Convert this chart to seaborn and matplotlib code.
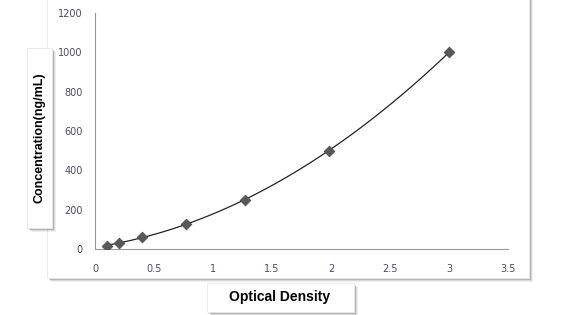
import matplotlib
matplotlib.use("Agg")
import matplotlib.pyplot as plt
import seaborn as sns
import pandas as pd
from matplotlib.patches import Rectangle

od = [0.10, 0.20, 0.40, 0.77, 1.27, 1.98, 3.00]
conc = [15.6, 31.2, 62.5, 125, 250, 500, 1000]
x_ticks = [0, 0.5, 1, 1.5, 2, 2.5, 3, 3.5]
x_tick_labels = ["0", "0.5", "1", "1.5", "2", "2.5", "3", "3.5"]
y_ticks = [0, 200, 400, 600, 800, 1000, 1200]
y_tick_labels = ["0", "200", "400", "600", "800", "1000", "1200"]

df = pd.DataFrame({"od": od, "conc": conc})

sns.set_theme(style="white")
W, H = 562, 315
fig = plt.figure(figsize=(W / 100, H / 100), dpi=100)


def frac(x0, y0, x1, y1):
    # pixel box (top-left origin) -> figure fraction (left, bottom, w, h)
    return x0 / W, 1 - y1 / H, (x1 - x0) / W, (y1 - y0) / H


def shadow_box(x0, y0, x1, y1, z):
    for i, a in enumerate([0.06, 0.10, 0.16]):
        off = 4 - i
        l, b, w, h = frac(x0 + off, y0 + off, x1 + off, y1 + off)
        fig.add_artist(Rectangle((l, b), w, h, transform=fig.transFigure,
                                 facecolor="#000000", alpha=a, edgecolor="none", zorder=z))
    l, b, w, h = frac(x0, y0, x1, y1)
    fig.add_artist(Rectangle((l, b), w, h, transform=fig.transFigure,
                             facecolor="white", edgecolor="#e8e8e8", linewidth=0.6, zorder=z + 0.1))


# chart area box
shadow_box(47, -4, 529, 278, 0)

ax = fig.add_axes(frac(95, 13, 508, 249))
ax.set_zorder(2)
ax.patch.set_alpha(0)

sns.regplot(data=df, x="od", y="conc", order=2, ci=None, scatter=False, truncate=True,
            line_kws={"color": "#222222", "linewidth": 0.9}, ax=ax)
sns.scatterplot(data=df, x="od", y="conc", marker="D", s=30, color="#585858",
                edgecolor="#484848", linewidth=0.5, zorder=5, ax=ax)

ax.set_xlim(0, 3.5)
ax.set_ylim(0, 1200)
ax.set_xticks(x_ticks)
ax.set_xticklabels(x_tick_labels)
ax.set_yticks(y_ticks)
ax.set_yticklabels(y_tick_labels)
ax.set_xlabel("")
ax.set_ylabel("")
for s in ["top", "right"]:
    ax.spines[s].set_visible(False)
for s in ["left", "bottom"]:
    ax.spines[s].set_color("#999999")
    ax.spines[s].set_linewidth(0.8)
ax.tick_params(axis="both", which="both", direction="out", length=3, width=0.7,
               color="#999999", labelsize=7, labelcolor="#4a4a6a")
ax.tick_params(axis="y", pad=6)
ax.tick_params(axis="x", pad=8)

# axis title boxes
shadow_box(27, 48, 52, 228, 3)
fig.text(40 / W, 1 - 138 / H, "Concentration(ng/mL)", rotation=90, ha="center", va="center",
         fontsize=9, fontweight="bold", family=["Liberation Sans", "DejaVu Sans"],
         color="black", zorder=4)

shadow_box(207, 283, 354, 312, 3)
fig.text(280 / W, 1 - 297 / H, "Optical Density", ha="center", va="center",
         fontsize=10, fontweight="bold", family=["Liberation Sans", "DejaVu Sans"],
         color="black", zorder=4)

fig.savefig("out.png", dpi=100)
